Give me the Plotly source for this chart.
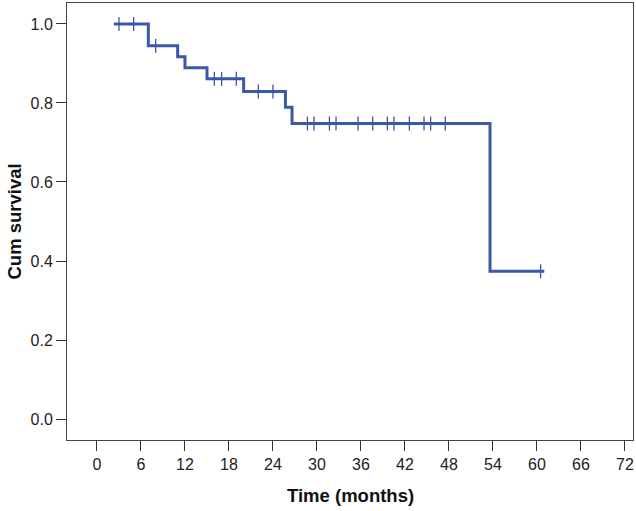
import plotly.graph_objects as go
import numpy as np

# Kaplan-Meier data
start_time = 2.3
end_time = 61.0
event_times = [7, 11, 12, 15, 20, 25.7, 26.6, 53.6]
survival = [1.0, 0.945, 0.917, 0.889, 0.861, 0.829, 0.789, 0.748, 0.374]
censor_times = [3, 5, 8, 16, 17, 19, 22, 24, 28.7, 29.6, 31.7, 32.6, 35.6,
                37.6, 39.6, 40.5, 42.6, 44.6, 45.5, 47.5, 60.5]
x_ticks = [0, 6, 12, 18, 24, 30, 36, 42, 48, 54, 60, 66, 72]
y_ticks = [0.0, 0.2, 0.4, 0.6, 0.8, 1.0]

COLOR = "#3B58A6"
FONT = "Liberation Sans, Arial"

# step curve
xs = [start_time] + event_times + [end_time]
ys = survival + [survival[-1]]

def surv_at(t):
    idx = np.searchsorted(event_times, t, side="right")
    return survival[idx]

cys = [surv_at(t) for t in censor_times]

fig = go.Figure()
fig.add_trace(go.Scatter(x=xs, y=ys, mode="lines", line_shape="hv",
                         line=dict(color=COLOR, width=3), hoverinfo="skip",
                         showlegend=False))
fig.add_trace(go.Scatter(x=censor_times, y=cys, mode="markers",
                         marker=dict(symbol="line-ns", size=10,
                                     line=dict(color=COLOR, width=1.3)),
                         showlegend=False))

axis_common = dict(showline=True, linecolor="#444", linewidth=1, mirror=True,
                   ticks="outside", ticklen=10, tickwidth=1, tickcolor="#333",
                   showgrid=False, zeroline=False, automargin=False,
                   tickfont=dict(family=FONT, size=16, color="#222"))

fig.update_xaxes(range=[-4.09, 73.1], tickvals=x_ticks,
                 ticktext=[str(v) for v in x_ticks], **axis_common)
fig.update_yaxes(range=[-0.053, 1.053], tickvals=y_ticks,
                 ticktext=[f"{v:.1f}" for v in y_ticks], **axis_common)

fig.add_annotation(text="<b>Time (months)</b>", xref="paper", yref="paper",
                   x=0.5, y=-0.126, xanchor="center", yanchor="middle",
                   showarrow=False, font=dict(family=FONT, size=18.5, color="#111"))
fig.add_annotation(text="<b>Cum survival</b>", xref="paper", yref="paper",
                   x=-0.0936, y=0.5, xanchor="center", yanchor="middle",
                   textangle=-90, showarrow=False,
                   font=dict(family=FONT, size=18.5, color="#111"))

fig.update_layout(width=636, height=511, plot_bgcolor="white", paper_bgcolor="white",
                  margin=dict(l=67, r=3, t=3, b=71))

fig.write_html("out.html", config={"displayModeBar": False},
               post_script="document.body.style.margin='0';document.body.style.padding='0';"
                           "document.documentElement.style.overflow='hidden';")
